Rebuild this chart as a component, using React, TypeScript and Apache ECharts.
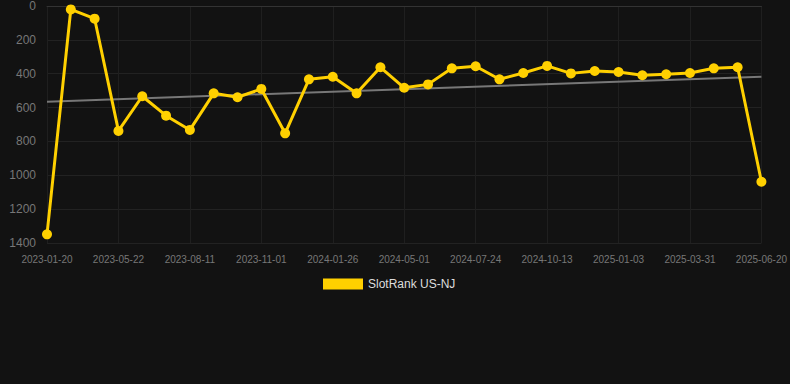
import React, { useEffect, useRef } from "react";
import * as echarts from "echarts";

const categories: string[] = [
  "2023-01-20", "2023-02-28", "2023-04-08", "2023-05-22", "2023-06-18", "2023-07-15",
  "2023-08-11", "2023-09-05", "2023-10-03", "2023-11-01", "2023-12-01", "2023-12-28",
  "2024-01-26", "2024-02-25", "2024-03-28", "2024-05-01", "2024-05-28", "2024-06-26",
  "2024-07-24", "2024-08-20", "2024-09-16", "2024-10-13", "2024-11-08", "2024-12-06",
  "2025-01-03", "2025-01-31", "2025-03-02", "2025-03-31", "2025-04-28", "2025-05-24",
  "2025-06-20",
];

const rankValues: number[] = [
  1349, 20, 75, 738, 533, 648, 732, 516, 539, 490, 752, 433, 418, 516, 362, 483,
  463, 368, 356, 433, 396, 354, 398, 384, 390, 409, 403, 396, 368, 362, 1038,
];

const trendStart = 565;
const trendEnd = 418;

const yTicks = { min: 0, max: 1400, interval: 200 };
const seriesName = "SlotRank US-NJ";

export default function App() {
  const ref = useRef<HTMLDivElement>(null);

  useEffect(() => {
    document.body.style.margin = "0";
    if (!ref.current) return;
    const chart = echarts.init(ref.current, undefined, { renderer: "svg" });

    const trendData: (number | null)[] = categories.map((_, i) =>
      i === 0 ? trendStart : i === categories.length - 1 ? trendEnd : null
    );

    chart.setOption({
      animation: false,
      backgroundColor: "#121212",
      grid: { left: 47, right: 28, top: 6, bottom: 141 },
      legend: {
        data: [seriesName],
        top: 273,
        left: 318,
        itemWidth: 40,
        itemHeight: 11,
        icon: "rect",
        itemGap: 10,
        textStyle: { color: "#dddddd", fontSize: 12, fontFamily: "Liberation Sans, Arial, sans-serif" },
      },
      xAxis: {
        type: "category",
        data: categories,
        boundaryGap: false,
        axisLine: { show: true, lineStyle: { color: "#333333" } },
        axisTick: { show: false },
        axisLabel: {
          interval: 2,
          color: "#777777",
          fontSize: 10,
          margin: 11,
          fontFamily: "Liberation Sans, Arial, sans-serif",
        },
        splitLine: { show: true, interval: 2, lineStyle: { color: "#1f1f1f" } },
      },
      yAxis: {
        type: "value",
        inverse: true,
        min: yTicks.min,
        max: yTicks.max,
        interval: yTicks.interval,
        axisLine: { show: false },
        axisTick: { show: false },
        axisLabel: {
          color: "#777777",
          fontSize: 12,
          margin: 11,
          formatter: (v: number) => String(v),
          fontFamily: "Liberation Sans, Arial, sans-serif",
        },
        splitLine: { show: true, lineStyle: { color: "#222222" } },
      },
      series: [
        {
          name: "Trend",
          type: "line",
          data: trendData,
          connectNulls: true,
          symbol: "none",
          lineStyle: { color: "#777777", width: 2 },
          silent: true,
          z: 1,
        },
        {
          name: seriesName,
          type: "line",
          data: rankValues,
          symbol: "circle",
          symbolSize: 10,
          itemStyle: { color: "#FFD000" },
          lineStyle: { color: "#FFD000", width: 3 },
          z: 2,
        },
      ],
    });

    return () => chart.dispose();
  }, []);

  return (
    <div
      ref={ref}
      style={{ position: "absolute", left: 0, top: 0, width: 790, height: 384 }}
    />
  );
}
